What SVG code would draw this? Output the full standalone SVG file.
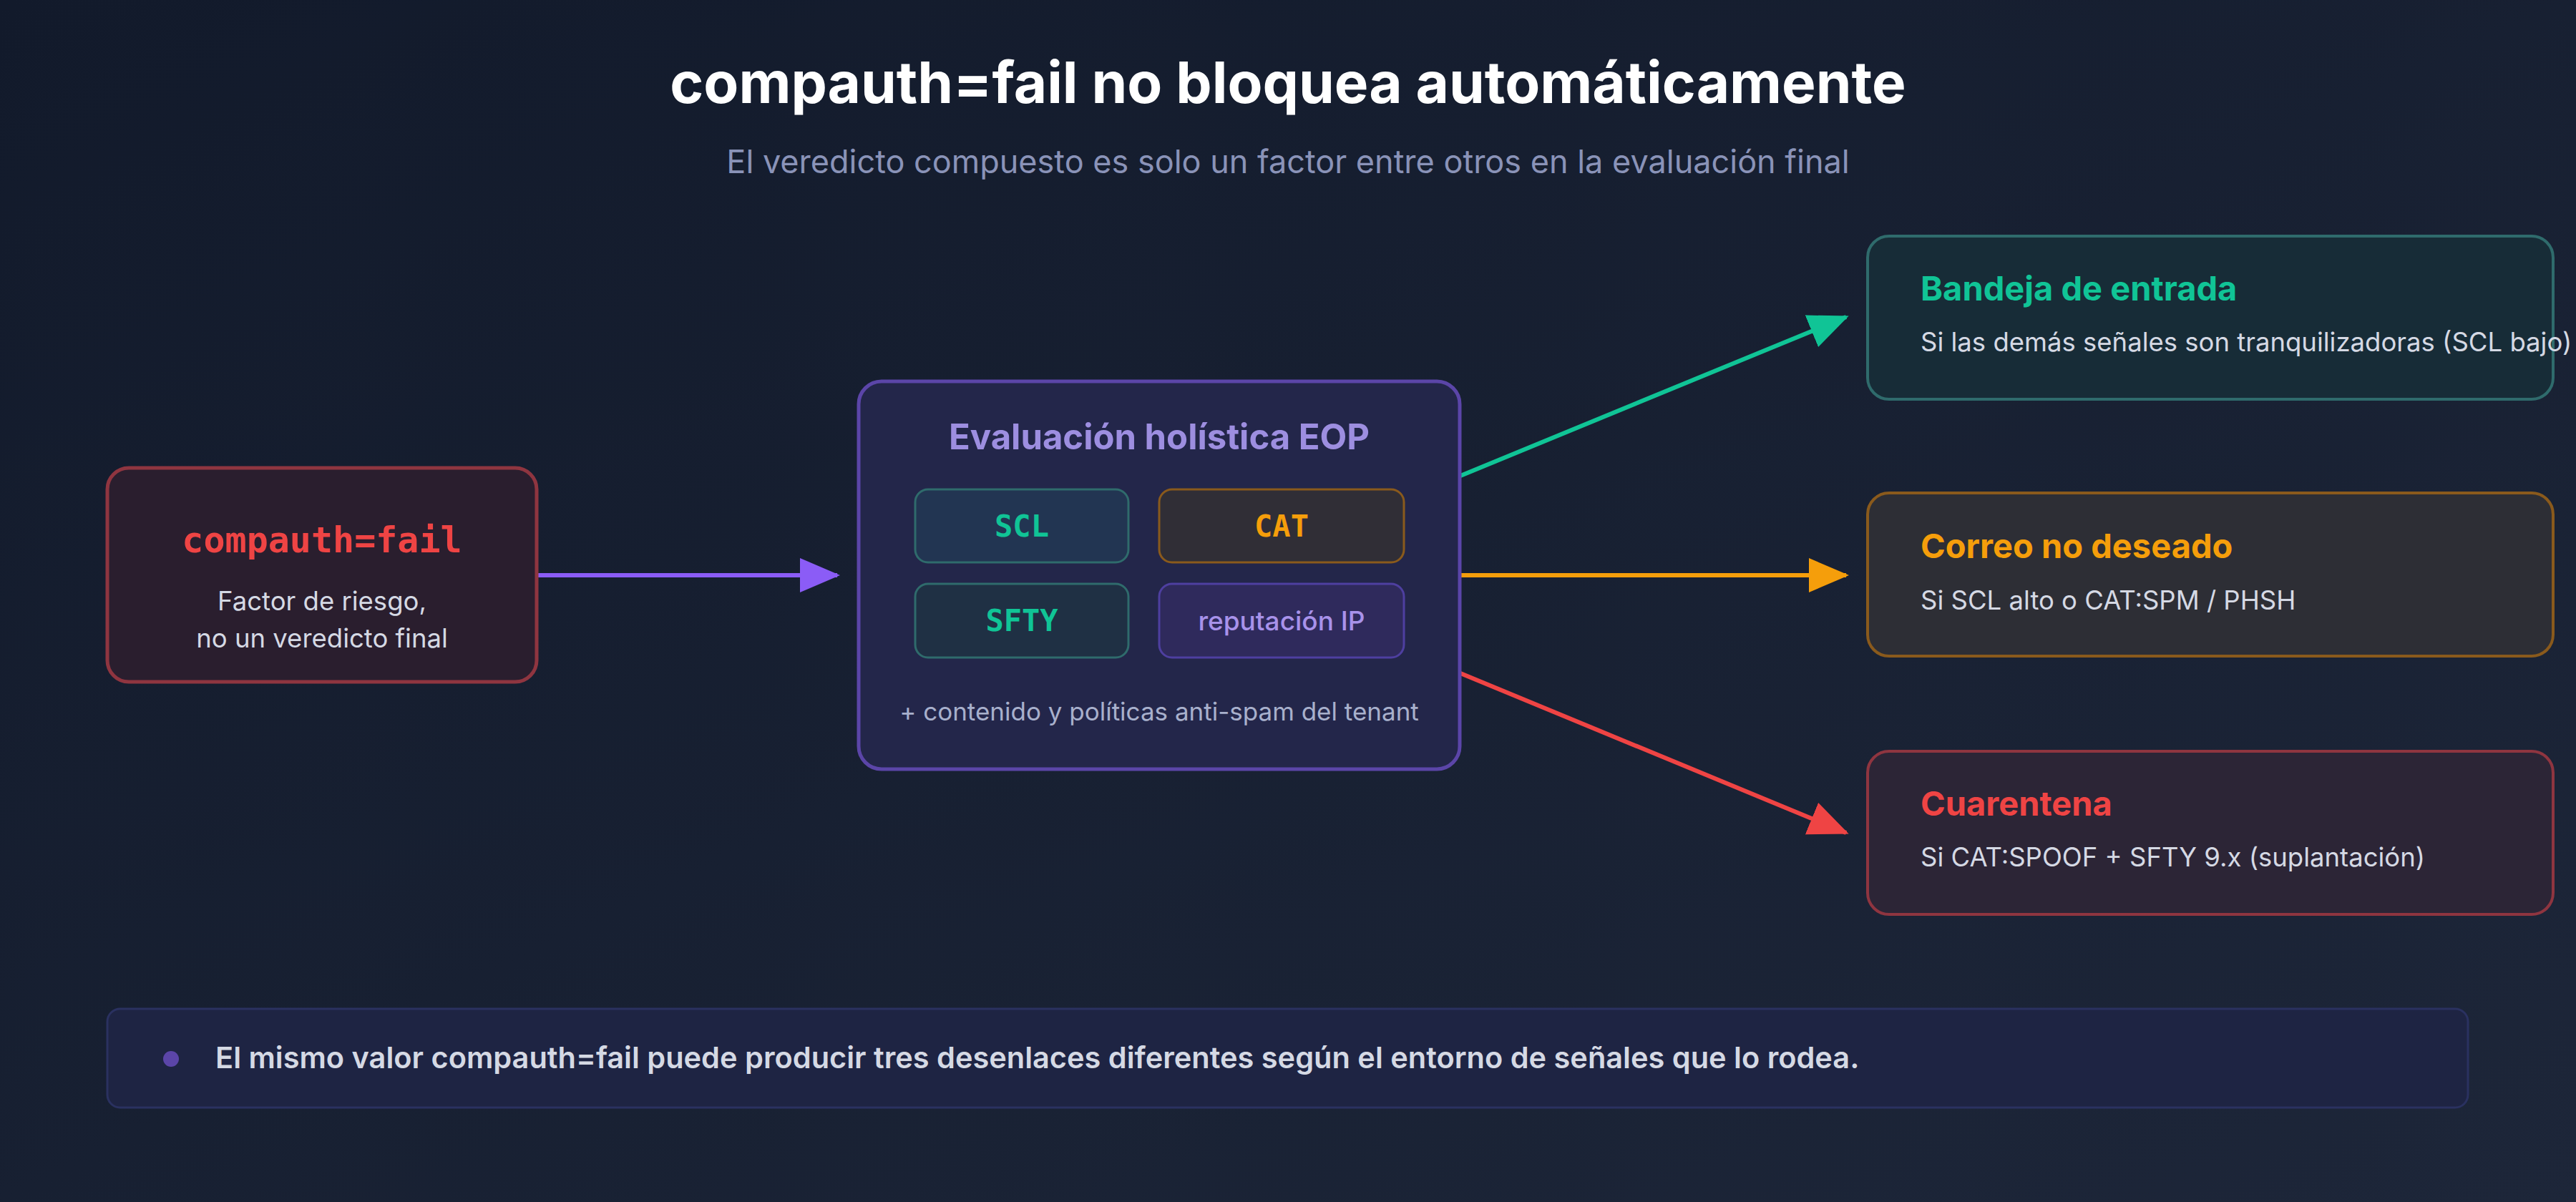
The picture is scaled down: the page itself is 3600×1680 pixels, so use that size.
<svg xmlns="http://www.w3.org/2000/svg" width="3600" height="1680" viewBox="0 0 3600 1680">
<defs>
<linearGradient id="bg" x1="0" y1="0" x2="1" y2="1"><stop offset="0" stop-color="#121a2b"/><stop offset="1" stop-color="#1d2639"/></linearGradient>
<marker id="mG" viewBox="0 0 14 12" markerWidth="56" markerHeight="48" refX="13" refY="6" orient="auto" markerUnits="userSpaceOnUse"><path d="M0,0L14,6L0,12z" fill="#10c496"/></marker>
<marker id="mO" viewBox="0 0 14 12" markerWidth="56" markerHeight="48" refX="13" refY="6" orient="auto" markerUnits="userSpaceOnUse"><path d="M0,0L14,6L0,12z" fill="#f59e0b"/></marker>
<marker id="mR" viewBox="0 0 14 12" markerWidth="56" markerHeight="48" refX="13" refY="6" orient="auto" markerUnits="userSpaceOnUse"><path d="M0,0L14,6L0,12z" fill="#ef4444"/></marker>
<marker id="mV" viewBox="0 0 14 12" markerWidth="56" markerHeight="48" refX="13" refY="6" orient="auto" markerUnits="userSpaceOnUse"><path d="M0,0L14,6L0,12z" fill="#8b5cf6"/></marker>
</defs>
<style>
text{font-family:Inter,"Liberation Sans",sans-serif}
.mono{font-family:"DejaVu Sans Mono","Liberation Mono",monospace;font-weight:bold}
.t{font-size:47px;font-weight:bold}
.s{font-size:36.5px;fill:#d5d9e4}
.c{stroke-width:6;fill:none}
</style>
<rect width="3600" height="1680" fill="url(#bg)"/>
<text x="1800" y="144" text-anchor="middle" font-size="80" font-weight="bold" fill="#ffffff">compauth=fail no bloquea automáticamente</text>
<text x="1800" y="242" text-anchor="middle" font-size="45" fill="#8a93b8">El veredicto compuesto es solo un factor entre otros en la evaluación final</text>
<g id="connectors">
<line class="c" x1="751" y1="804" x2="1170" y2="804" stroke="#8b5cf6" marker-end="url(#mV)"/>
<line class="c" x1="2041" y1="665" x2="2580" y2="443" stroke="#10c496" marker-end="url(#mG)"/>
<line class="c" x1="2041" y1="804" x2="2580" y2="804" stroke="#f59e0b" marker-end="url(#mO)"/>
<line class="c" x1="2041" y1="941" x2="2580" y2="1164" stroke="#ef4444" marker-end="url(#mR)"/>
</g>
<g id="compauth">
<rect x="150" y="654" width="600" height="299" rx="30" fill="#2a1e2e" stroke="#8f3540" stroke-width="5"/>
<text x="450" y="772" text-anchor="middle" class="mono" font-size="50" fill="#ef4444">compauth=fail</text>
<text x="450" y="853" text-anchor="middle" class="s" font-size="40">Factor de riesgo,</text>
<text x="450" y="905" text-anchor="middle" class="s" font-size="40">no un veredicto final</text>
</g>
<g id="eop">
<rect x="1200" y="533" width="840" height="542" rx="32" fill="#23264a" stroke="#5b45a8" stroke-width="5"/>
<text x="1620" y="628" text-anchor="middle" font-size="49" font-weight="bold" fill="#9d8ee0">Evaluación holística EOP</text>
<rect x="1279" y="684" width="298" height="102" rx="18" fill="#223552" stroke="#2f6b6c" stroke-width="3"/>
<text x="1428" y="750" text-anchor="middle" class="mono" font-size="42" fill="#10c496">SCL</text>
<rect x="1620" y="684" width="342" height="102" rx="18" fill="#302e36" stroke="#8a5a1c" stroke-width="3"/>
<text x="1791" y="750" text-anchor="middle" class="mono" font-size="42" fill="#f59e0b">CAT</text>
<rect x="1279" y="816" width="298" height="103" rx="18" fill="#1f3044" stroke="#2f6b6c" stroke-width="3"/>
<text x="1428" y="882" text-anchor="middle" class="mono" font-size="42" fill="#10c496">SFTY</text>
<rect x="1620" y="816" width="342" height="103" rx="18" fill="#2f2a5c" stroke="#4e3fa0" stroke-width="3"/>
<text x="1791" y="881" text-anchor="middle" font-size="37" font-weight="500" fill="#a892ea">reputación IP</text>
<text x="1620" y="1007" text-anchor="middle" font-size="35" fill="#a8b0cc">+ contenido y políticas anti-spam del tenant</text>
</g>
<g id="bandeja">
<rect x="2610" y="330" width="958" height="228" rx="30" fill="#172c37" stroke="#2f6b6c" stroke-width="4"/>
<text x="2684" y="420" class="t" fill="#10c496">Bandeja de entrada</text>
<text x="2684" y="491" class="s">Si las demás señales son tranquilizadoras (SCL bajo)</text>
</g>
<g id="correo">
<rect x="2610" y="689" width="958" height="228" rx="30" fill="#2d2e35" stroke="#8a5a1c" stroke-width="4"/>
<text x="2684" y="780" class="t" fill="#f59e0b">Correo no deseado</text>
<text x="2684" y="852" class="s">Si SCL alto o CAT:SPM / PHSH</text>
</g>
<g id="cuarentena">
<rect x="2610" y="1050" width="958" height="228" rx="30" fill="#2c2536" stroke="#8f3540" stroke-width="4"/>
<text x="2684" y="1140" class="t" fill="#ef4444">Cuarentena</text>
<text x="2684" y="1211" class="s">Si CAT:SPOOF + SFTY 9.x (suplantación)</text>
</g>
<g id="nota">
<rect x="150" y="1410" width="3299" height="138" rx="18" fill="#1e2443" stroke="#2a3160" stroke-width="3"/>
<circle cx="239" cy="1480" r="11" fill="#5b45a8"/>
<text x="301" y="1493" font-size="41.5" font-weight="600" fill="#d5d9e4">El mismo valor compauth=fail puede producir tres desenlaces diferentes según el entorno de señales que lo rodea.</text>
</g>
</svg>
